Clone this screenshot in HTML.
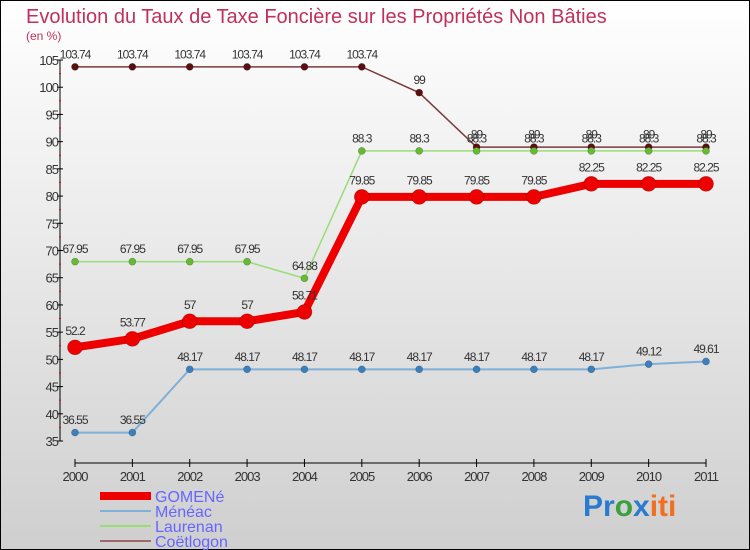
<!DOCTYPE html>
<html><head><meta charset="utf-8"><style>
html,body{margin:0;padding:0}
body{width:750px;height:550px;overflow:hidden;font-family:"Liberation Sans",sans-serif}
svg{display:block}
</style></head><body>
<svg id="chart" width="750" height="550" xmlns="http://www.w3.org/2000/svg">
<defs><linearGradient id="bg" x1="0" y1="0" x2="0" y2="1"><stop offset="0" stop-color="#ffffff"/><stop offset="1" stop-color="#cfcfcf"/></linearGradient></defs>
<rect x="0.5" y="0.5" width="749" height="549" fill="url(#bg)" stroke="#000"/>
<text x="26" y="23" font-size="20" fill="#c0305a">Evolution du Taux de Taxe Foncière sur les Propriétés Non Bâties</text>
<text x="26" y="40" font-size="12" fill="#c0305a">(en %)</text>
<g id="axes"></g><g id="series"></g><g id="legend"></g>
<text x="583" y="516" font-size="30" font-weight="bold"><tspan fill="#2a7bd0">Pr</tspan><tspan fill="#3aa040">o</tspan><tspan fill="#2a7bd0">x</tspan><tspan fill="#f07020">iti</tspan></text>
</svg>
<script>
const years=[2000,2001,2002,2003,2004,2005,2006,2007,2008,2009,2010,2011];
const yTicks=[35,40,45,50,55,60,65,70,75,80,85,90,95,100,105];
const seriesNames=["GOMENé","Ménéac","Laurenan","Coëtlogon"];
const gomene=[52.2,53.77,57,57,58.71,79.85,79.85,79.85,79.85,82.25,82.25,82.25];
const meneac=[36.55,36.55,48.17,48.17,48.17,48.17,48.17,48.17,48.17,48.17,49.12,49.61];
const laurenan=[67.95,67.95,67.95,67.95,64.88,88.3,88.3,88.3,88.3,88.3,88.3,88.3];
const coetlogon=[103.74,103.74,103.74,103.74,103.74,103.74,99,89,89,89,89,89];
const NS="http://www.w3.org/2000/svg";
const xS=i=>75+i*(631/11);
const yS=v=>60+(105-v)*(381/70);
function mk(tag,attrs,parent){const e=document.createElementNS(NS,tag);for(const k in attrs)e.setAttribute(k,attrs[k]);parent.appendChild(e);return e;}
const axes=document.getElementById('axes');
let a=mk('line',{x1:60,y1:yS(105),x2:60,y2:yS(35),stroke:'#000'},axes);


a=mk('line',{x1:75,y1:463,x2:706,y2:463,stroke:'#000'},axes);


yTicks.forEach((t,i)=>{
  const y=yS(t);
  mk('line',{x1:57,y1:y,x2:63,y2:y,stroke:'#000'},axes);
  if(i<yTicks.length-1) mk('line',{x1:59,y1:y-13.6,x2:61,y2:y-13.6,stroke:'#e00'},axes);
  const tx=mk('text',{x:58,y:y+5,'font-size':13,'text-anchor':'end',fill:'#333','letter-spacing':'-1'},axes);
  tx.textContent=t;
  
  
});
years.forEach((yr,i)=>{
  const x=xS(i);
  mk('line',{x1:x,y1:459,x2:x,y2:467,stroke:'#000'},axes);
  const tx=mk('text',{x:x,y:481,'font-size':13,'text-anchor':'middle',fill:'#333','letter-spacing':'-1'},axes);
  tx.textContent=yr;
  
  
});
const sg=document.getElementById('series');
const defs=[
 {d:coetlogon,c:'#7a3a3a',pt:'#5a1010',w:1.5,r:3.5,name:'coetlogon'},
 {d:laurenan,c:'#99dd77',pt:'#66bb33',w:1.5,r:3.5,name:'laurenan'},
 {d:meneac,c:'#7fb0d8',pt:'#3a80c0',w:2,r:3.5,name:'meneac'},
 {d:gomene,c:'#ee0000',pt:'#ee0000',w:8,r:7.5,name:'gomene'}];
defs.forEach(s=>{
  const g=mk('g',{},sg);
  
  
  const p=mk('polyline',{points:s.d.map((v,i)=>xS(i)+','+yS(v)).join(' '),fill:'none',stroke:s.c,'stroke-width':s.w},g);
  
  
  s.d.forEach((v,i)=>{
    const c=mk('circle',{cx:xS(i),cy:yS(v),r:s.r,fill:s.pt,stroke:'rgba(0,0,0,0.3)','stroke-width':0.6},g);
    
    
    const t=mk('text',{x:xS(i),y:yS(v)-(s.r+5),'font-size':12,'text-anchor':'middle',fill:'#333','letter-spacing':'-1'},g);
    t.textContent=String(v);
    
    
  });
});
const lg=document.getElementById('legend');
const lc=['#ee0000','#7fb0d8','#99dd77','#a06868'],lw=[8,2,2,2];
seriesNames.forEach((n,i)=>{
  const y=496+i*15;
  const l=mk('line',{x1:100,y1:y,x2:151,y2:y,stroke:lc[i],'stroke-width':lw[i]},lg);
  
  
  const t=mk('text',{x:155,y:y+6,'font-size':16,fill:'#6666ff'},lg);
  t.textContent=n;
  
  
});
</script>
</body></html>
